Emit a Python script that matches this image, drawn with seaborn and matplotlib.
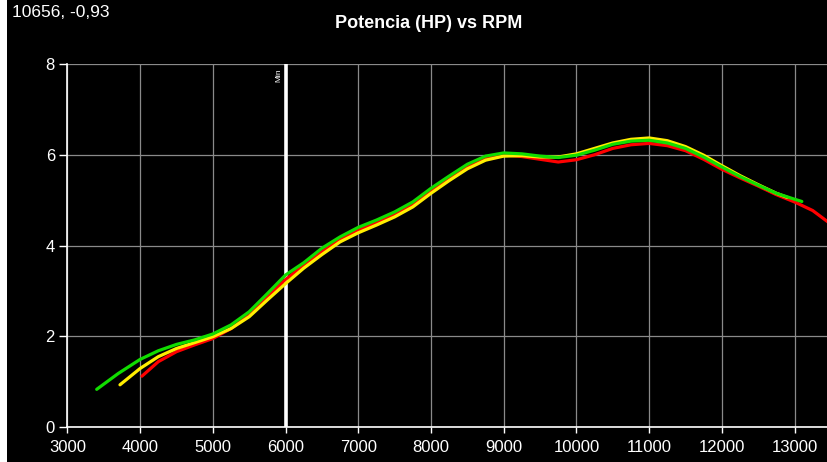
import matplotlib
matplotlib.use("Agg")
import matplotlib.pyplot as plt
from matplotlib.patches import Rectangle
import seaborn as sns
import pandas as pd

# ---- data ----
green_rpm = [3403, 3700, 4000, 4250, 4500, 4750, 5000, 5250, 5500, 5750, 6000,
             6250, 6500, 6750, 7000, 7250, 7500, 7750, 8000, 8250, 8500, 8750, 9000,
             9250, 9500, 9750, 10000, 10250, 10500, 10750, 11000, 11250, 11500, 11750,
             12000, 12250, 12500, 12750, 13000, 13100]
green_hp = [0.83, 1.18, 1.49, 1.68, 1.82, 1.92, 2.05, 2.25, 2.54, 2.94, 3.35,
            3.62, 3.94, 4.19, 4.40, 4.56, 4.74, 4.96, 5.26, 5.53, 5.79, 5.97, 6.04,
            6.02, 5.97, 5.94, 5.99, 6.10, 6.23, 6.30, 6.32, 6.26, 6.14, 5.95,
            5.73, 5.52, 5.33, 5.15, 5.02, 4.97]

yellow_rpm = [3723, 4000, 4250, 4500, 4750, 5000, 5250, 5500, 5750, 6000,
              6250, 6500, 6750, 7000, 7250, 7500, 7750, 8000, 8250, 8500, 8750, 9000,
              9250, 9500, 9750, 10000, 10250, 10500, 10750, 11000, 11250, 11500, 11750,
              12000, 12250, 12500, 12750, 12900]
yellow_hp = [0.93, 1.29, 1.55, 1.73, 1.86, 1.99, 2.17, 2.43, 2.80, 3.16,
             3.50, 3.80, 4.08, 4.28, 4.45, 4.63, 4.85, 5.15, 5.43, 5.69, 5.88, 5.97,
             5.98, 5.95, 5.95, 6.02, 6.14, 6.26, 6.34, 6.37, 6.31, 6.18, 5.99,
             5.76, 5.54, 5.34, 5.15, 5.06]

red_rpm = [4025, 4250, 4500, 4750, 5000, 5250, 5500, 5750, 6000,
           6250, 6500, 6750, 7000, 7250, 7500, 7750, 8000, 8250, 8500, 8750, 9000,
           9250, 9500, 9750, 10000, 10250, 10500, 10750, 11000, 11250, 11500, 11750,
           12000, 12250, 12500, 12750, 13000, 13250, 13475]
red_hp = [1.12, 1.44, 1.66, 1.81, 1.95, 2.17, 2.47, 2.87, 3.25,
          3.56, 3.86, 4.13, 4.34, 4.50, 4.68, 4.90, 5.20, 5.48, 5.74, 5.93, 6.00,
          5.96, 5.90, 5.84, 5.89, 6.00, 6.14, 6.22, 6.25, 6.20, 6.09, 5.90,
          5.68, 5.49, 5.31, 5.12, 4.96, 4.77, 4.50]

x_ticks = [3000, 4000, 5000, 6000, 7000, 8000, 9000, 10000, 11000, 12000, 13000]
y_ticks = [0, 2, 4, 6, 8]
min_marker_rpm = 6000
title = "Potencia (HP) vs RPM"
cursor_text = "10656, -0,93"

# ---- plot ----
sns.set_theme(style="dark")
plt.rcParams["font.family"] = ["Liberation Sans", "DejaVu Sans"]

fig = plt.figure(figsize=(8.28, 4.62), dpi=100, facecolor="black")
# thin white strip along the left edge, as in the reference screenshot
fig.patches.append(Rectangle((0, 0), 7 / 828, 1, transform=fig.transFigure,
                             facecolor="white", edgecolor="none", zorder=0))

ax = fig.add_axes([67.4 / 828, 35 / 462, 1 - 67.4 / 828, 363 / 462])
ax.set_facecolor("black")

df_r = pd.DataFrame({"rpm": red_rpm, "hp": red_hp})
df_y = pd.DataFrame({"rpm": yellow_rpm, "hp": yellow_hp})
df_g = pd.DataFrame({"rpm": green_rpm, "hp": green_hp})

ax.axvline(min_marker_rpm, color="white", lw=2.6, zorder=3)
line_kw = dict(lw=2.3, sort=False, estimator=None,
               solid_joinstyle="round", solid_capstyle="round")
sns.lineplot(data=df_r, x="rpm", y="hp", ax=ax, color="#ff0000", zorder=4, **line_kw)
sns.lineplot(data=df_y, x="rpm", y="hp", ax=ax, color="#ffee00", zorder=5, **line_kw)
sns.lineplot(data=df_g, x="rpm", y="hp", ax=ax, color="#11dd00", zorder=6, **line_kw)

ax.set_xlim(3000, 13460)
ax.set_ylim(0, 8)
ax.set_xticks(x_ticks)
ax.set_yticks(y_ticks)
ax.set_xlabel("")
ax.set_ylabel("")
ax.grid(True, color="#8a8a8a", lw=0.9)
ax.set_axisbelow(True)

for side in ["top", "right"]:
    ax.spines[side].set_visible(False)
for side in ["left", "bottom"]:
    ax.spines[side].set_visible(True)
    ax.spines[side].set_color("white")
    ax.spines[side].set_linewidth(1.2)

ax.tick_params(axis="both", colors="white", labelcolor="white", labelsize=12,
               width=1, direction="out", left=True, bottom=True)
ax.tick_params(axis="y", length=6, pad=3)
ax.tick_params(axis="x", length=4.5, pad=5)

ax.text(min_marker_rpm - 90, 7.75, "Min", color="white", fontsize=6,
        rotation=90, ha="center", va="center", zorder=7)

fig.text(429 / 828, 1 - 24 / 462, title, color="white", fontsize=13,
         fontweight="bold", ha="center", va="center")
fig.text(12 / 828, 1 - 12.5 / 462, cursor_text, color="white", fontsize=12.5,
         ha="left", va="center")

fig.savefig("out.png", dpi=100, facecolor="black")
